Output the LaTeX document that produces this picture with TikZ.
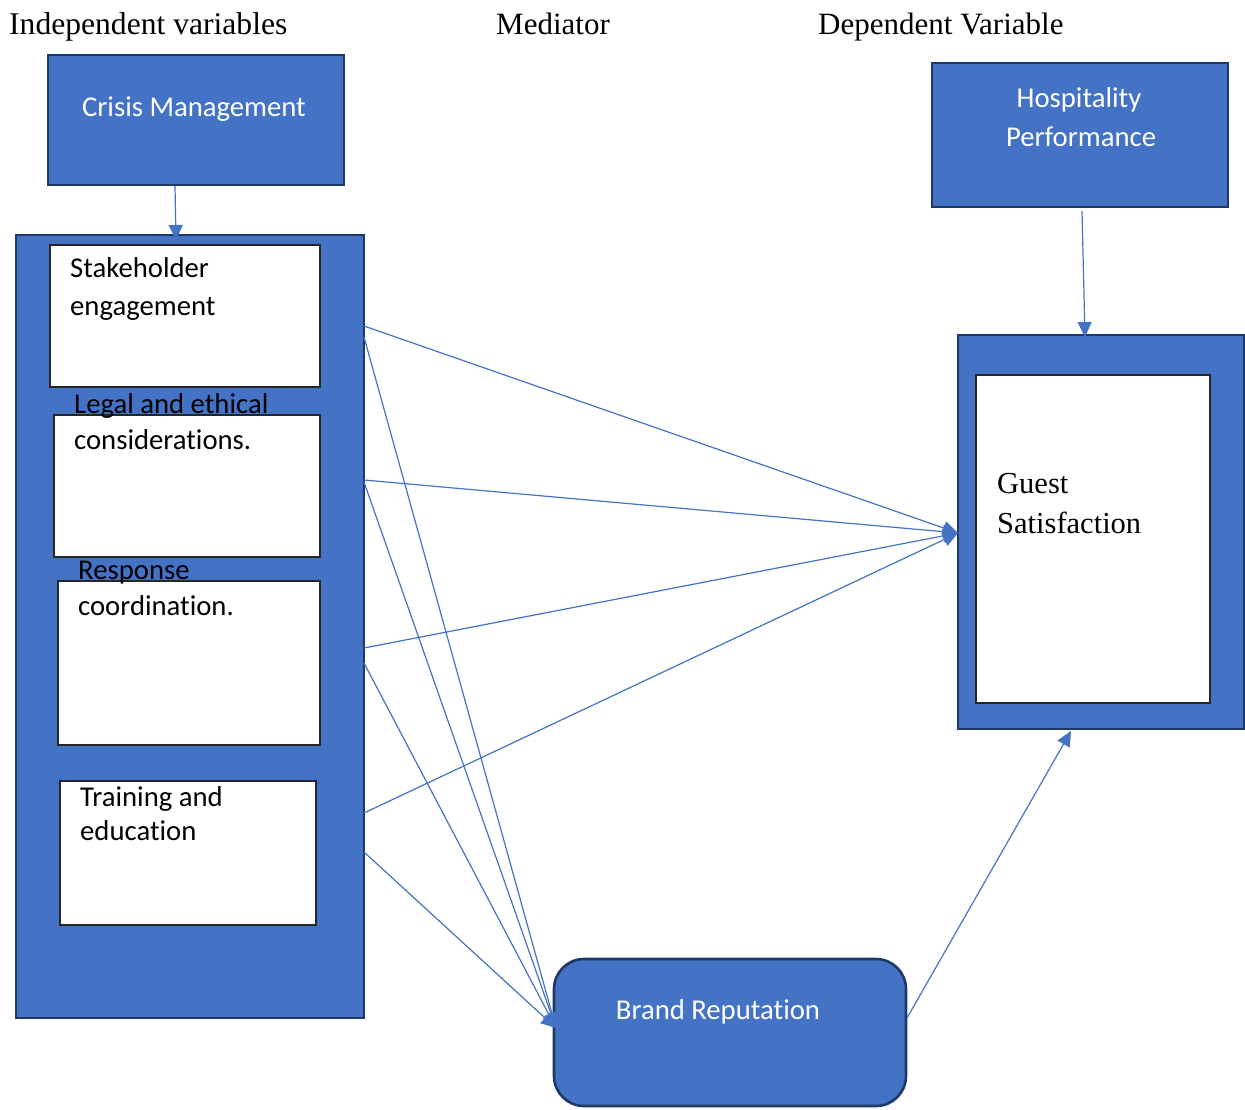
\documentclass[tikz,border=0pt]{standalone}
\usepackage{fontspec}
\setmainfont{Liberation Serif}
\newfontfamily\calibfont[Ligatures=NoCommon]{Carlito}
\usetikzlibrary{arrows.meta}
\definecolor{boxblue}{HTML}{4472C4}
\definecolor{edgeblue}{HTML}{1F3864}
\definecolor{edgegray}{HTML}{262626}
\begin{document}
\begin{tikzpicture}[x=1pt,y=-1pt,
  bluebox/.style={draw=edgeblue,line width=2.6pt,fill=boxblue,inner sep=0pt,outer sep=0pt,anchor=north west},
  whitebox/.style={draw=edgegray,line width=1.4pt,fill=white,inner sep=0pt,outer sep=0pt,anchor=north west},
  head/.style={font=\fontsize{31}{36}\selectfont,anchor=base west,inner sep=0pt},
  wtext/.style={font=\calibfont\fontsize{28.7}{34}\selectfont,text=white,inner sep=0pt,anchor=base},
  btext/.style={font=\calibfont\fontsize{28.7}{34}\selectfont,text=black,inner sep=0pt,anchor=base west},
  stext/.style={font=\fontsize{30.5}{36}\selectfont,text=black,inner sep=0pt,anchor=base west},
  conn/.style={draw=boxblue,line width=1.2pt,-{Triangle[length=15pt,width=14pt]}}]
\useasboundingbox (0,0) rectangle (1245,1109);

% headings
\node[head,font=\fontsize{31.6}{36}\selectfont] (hIV) at (9,34) {Independent variables};
\node[head] (hMed) at (496,34) {Mediator};
\node[head] (hDV) at (818,34) {Dependent Variable};

% Crisis management
\node[bluebox,minimum width=296pt,minimum height=130pt] (CM) at (48,55) {};
\node[wtext] (CMt) at (194,116) {Crisis Management};

% left container
\node[bluebox,minimum width=348pt,minimum height=783pt] (L) at (16,235) {};
\node[whitebox,minimum width=270pt,minimum height=142pt] (W1) at (50,245) {};
\node[whitebox,minimum width=266pt,minimum height=142pt] (W2) at (54,415) {};
\node[whitebox,minimum width=262pt,minimum height=164pt] (W3) at (58,581) {};
\node[whitebox,minimum width=256pt,minimum height=144pt] (W4) at (60,781) {};
\node[btext] (W1a) at (70,277) {Stakeholder};
\node[btext] (W1b) at (70,315) {engagement};
\node[btext] (W2a) at (74,413) {Legal and ethical};
\node[btext] (W2b) at (74,449) {considerations.};
\node[btext] (W3a) at (78,579) {Response};
\node[btext] (W3b) at (78,615) {coordination.};
\node[btext] (W4a) at (80,806) {Training and};
\node[btext] (W4b) at (80,840) {education};

% Hospitality performance
\node[bluebox,minimum width=296pt,minimum height=144pt] (HP) at (932,63) {};
\node[wtext] (HPa) at (1079,107) {Hospitality};
\node[wtext] (HPb) at (1081,146) {Performance};

% Guest satisfaction
\node[bluebox,minimum width=286pt,minimum height=394pt] (GS) at (958,335) {};
\node[whitebox,minimum width=234pt,minimum height=328pt] (GSi) at (976,375) {};
\node[stext] (GSa) at (997,493) {Guest};
\node[stext] (GSb) at (997,533) {Satisfaction};

% Brand reputation
\node[bluebox,rounded corners=30pt,minimum width=352pt,minimum height=147pt] (BR) at (554,959) {};
\node[wtext] (BRt) at (718,1019) {Brand Reputation};

% connector end points
\coordinate (cmS) at (175,186);
\coordinate (Ltop) at (176,240);
\coordinate (hpS) at (1082,211);
\coordinate (gsTop) at (1085,337);
\coordinate (gsIn) at (958,533);
\coordinate (brIn) at (556,1028);
\coordinate (brOut) at (907,1018);
\coordinate (gsBot) at (1071,731);
\coordinate (s1) at (364,326);
\coordinate (s2) at (364,337);
\coordinate (s3) at (364,480);
\coordinate (s4) at (364,482);
\coordinate (s5) at (364,648);
\coordinate (s6) at (364,663);
\coordinate (s7) at (364,813);
\coordinate (s8) at (364,852);

\draw[conn] (cmS) -- (Ltop);
\draw[conn] (hpS) -- (gsTop);
\draw[conn] (s1) -- (gsIn);
\draw[conn] (s3) -- (gsIn);
\draw[conn] (s5) -- (gsIn);
\draw[conn] (s7) -- (gsIn);
\draw[conn] (s2) -- (brIn);
\draw[conn] (s4) -- (brIn);
\draw[conn] (s6) -- (brIn);
\draw[conn] (s8) -- (brIn);
\draw[conn] (brOut) -- (gsBot);
\end{tikzpicture}
\end{document}
